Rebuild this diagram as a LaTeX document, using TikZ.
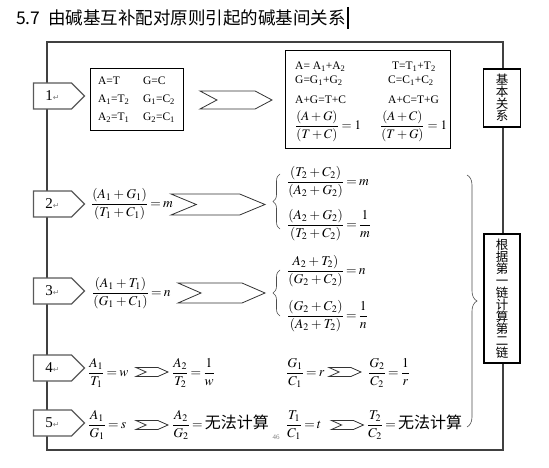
\documentclass[tikz,border=0pt]{standalone}
\usepackage{amsmath}
\usepackage{mathptmx}
\usepackage{fontspec}
\setmainfont{Liberation Serif}
\newfontfamily\cjk{Noto Sans CJK SC}
\newfontfamily\dvs{DejaVu Sans}
\usetikzlibrary{shapes.symbols,decorations.pathreplacing}

\newcommand{\ret}{{\color{gray}\dvs\fontsize{8}{8}\selectfont ↵}}
\newcommand{\lo}[1]{\textsubscript{#1}}
\newcommand{\nocalc}{\mbox{\cjk\fontsize{16}{16}\selectfont 无法计算}}
\newcommand{\tightmath}{\thickmuskip=3mu\relax\medmuskip=3mu\relax}

\tikzset{
  numtag/.style={draw=black!65, line width=1.2pt, fill=white, shape=signal, signal to=east,
    minimum width=51pt, minimum height=26pt, inner sep=0pt, font=\fontsize{15}{15}\selectfont},
  chev/.style={draw=black!80, line width=0.8pt, fill=white, shape=signal, signal from=west,
    signal to=east, inner sep=0pt},
  small chev/.style={chev, signal pointer angle=48, minimum width=32pt, minimum height=9pt},
  eq/.style={inner sep=0pt, anchor=west,
    font=\fontsize{13.5}{16}\selectfont\tightmath},
  txt/.style={inner sep=0pt, anchor=west, font=\fontsize{11.5}{14}\selectfont},
  vbox/.style={draw, line width=1.2pt, fill=white, align=center, inner sep=0pt,
    font=\cjk\fontsize{12.5}{12}\selectfont},
  brc/.style={decorate, draw=black!70, line width=0.6pt},
}

\begin{document}
\begin{tikzpicture}[x=1pt,y=-1pt]
\useasboundingbox (0,0) rectangle (549,468);

% title
\node[anchor=west, inner sep=0pt, font=\cjk\fontsize{17.5}{18}\selectfont] (title) at (16,18)
  {5.7\ \ 由碱基互补配对原则引起的碱基间关系};
\draw[line width=1.8pt] ([xshift=2pt]title.east) ++(0,-11) -- ++(0,22);

% frame
\draw[black!75, line width=1.3pt] (47,42) rectangle (503,450);

% numbers
\node[numtag] (n1) at (52.5,96) {1\ret};
\node[numtag] (n2) at (52.5,204) {2\ret};
\node[numtag] (n3) at (52.5,291) {3\ret};
\node[numtag] (n4) at (52.5,368) {4\ret};
\node[numtag] (n5) at (52.5,423) {5\ret};

% row 1
\node[draw, minimum width=93pt, minimum height=62pt, inner sep=0pt,
  font=\fontsize{11.5}{18}\selectfont] (pair) at (136.5,99)
  {\begin{tabular}{@{}p{45pt}@{}l@{}}
   A=T & G=C\\
   A\lo1=T\lo2 & G\lo1=C\lo2\\
   A\lo2=T\lo1 & G\lo2=C\lo1
   \end{tabular}};
\node[chev, signal pointer angle=56, minimum width=72pt, minimum height=18pt] (c1) at (236,100) {};
\node[draw, minimum width=165pt, minimum height=98pt] (sum) at (367.5,99) {};
\node[txt] (s1) at (295,67) {A= A\lo1+A\lo2};
\node[txt] (s2) at (392,67) {T=T\lo1+T\lo2};
\node[txt] (s3) at (295,81) {G=G\lo1+G\lo2};
\node[txt] (s4) at (388,81) {C=C\lo1+C\lo2};
\node[txt] (s5) at (295,100) {A+G=T+C};
\node[txt] (s6) at (388,100) {A+C=T+G};
\node[eq, font=\fontsize{13}{15}\selectfont] (s7) at (295,126) {$\dfrac{(A+G)}{(T+C)}=1$};
\node[eq, font=\fontsize{13}{15}\selectfont] (s8) at (380,126) {$\dfrac{(A+C)}{(T+G)}=1$};
\node[vbox, minimum width=37pt, minimum height=58pt] (basic) at (502,98) {基\\本\\关\\系};

% row 2
\node[eq] (e2a) at (91,204) {$\dfrac{(A_1+G_1)}{(T_1+C_1)}=m$};
\node[chev, signal pointer angle=45, minimum width=94pt, minimum height=21pt] (c2) at (218,204.5) {};
\node[eq] (e2b) at (287,182) {$\dfrac{(T_2+C_2)}{(A_2+G_2)}=m$};
\node[eq] (e2c) at (287,225) {$\dfrac{(A_2+G_2)}{(T_2+C_2)}=\dfrac{1}{m}$};
\draw[brc, decoration={brace, amplitude=7pt}] (280,229) -- (280,174);

% row 3
\node[eq] (e3a) at (92,293) {$\dfrac{(A_1+T_1)}{(G_1+C_1)}=n$};
\node[chev, signal pointer angle=47, minimum width=87pt, minimum height=20pt] (c3) at (221.5,293) {};
\node[eq] (e3b) at (287,271) {$\dfrac{A_2+T_2)}{(G_2+C_2)}=n$};
\node[eq] (e3c) at (287,316) {$\dfrac{(G_2+C_2)}{(A_2+T_2)}=\dfrac{1}{n}$};
\draw[brc, decoration={brace, amplitude=7pt}] (280,316) -- (280,270);

% row 4
\node[eq] (e4a) at (88,373) {$\dfrac{A_1}{T_1}=w$};
\node[small chev] (c4a) at (152,372) {};
\node[eq] (e4b) at (172,373) {$\dfrac{A_2}{T_2}=\dfrac{1}{w}$};
\node[eq] (e4c) at (286,373) {$\dfrac{G_1}{C_1}=r$};
\node[small chev] (c4b) at (345,372) {};
\node[eq] (e4d) at (368,373) {$\dfrac{G_2}{C_2}=\dfrac{1}{r}$};

% row 5
\node[eq] (e5a) at (88,425) {$\dfrac{A_1}{G_1}=s$};
\node[small chev] (c5a) at (152,425) {};
\node[eq] (e5b) at (172,425) {$\dfrac{A_2}{G_2}=\nocalc$};
\node[eq] (e5c) at (286,425) {$\dfrac{T_1}{C_1}=t$};
\node[small chev] (c5b) at (347.5,425) {};
\node[eq] (e5d) at (367,425) {$\dfrac{T_2}{C_2}=\nocalc$};

% right side
\draw[brc, decoration={brace, amplitude=10pt}] (467,175) -- (467,427);
\node[vbox, minimum width=36pt, minimum height=129pt] (chain) at (502,298.5)
  {根\\据\\第\\一\\链\\计\\算\\第\\二\\链};
\node[gray, inner sep=0pt, font=\fontsize{7}{7}\selectfont] (page) at (276,437) {46};
\end{tikzpicture}
\end{document}
